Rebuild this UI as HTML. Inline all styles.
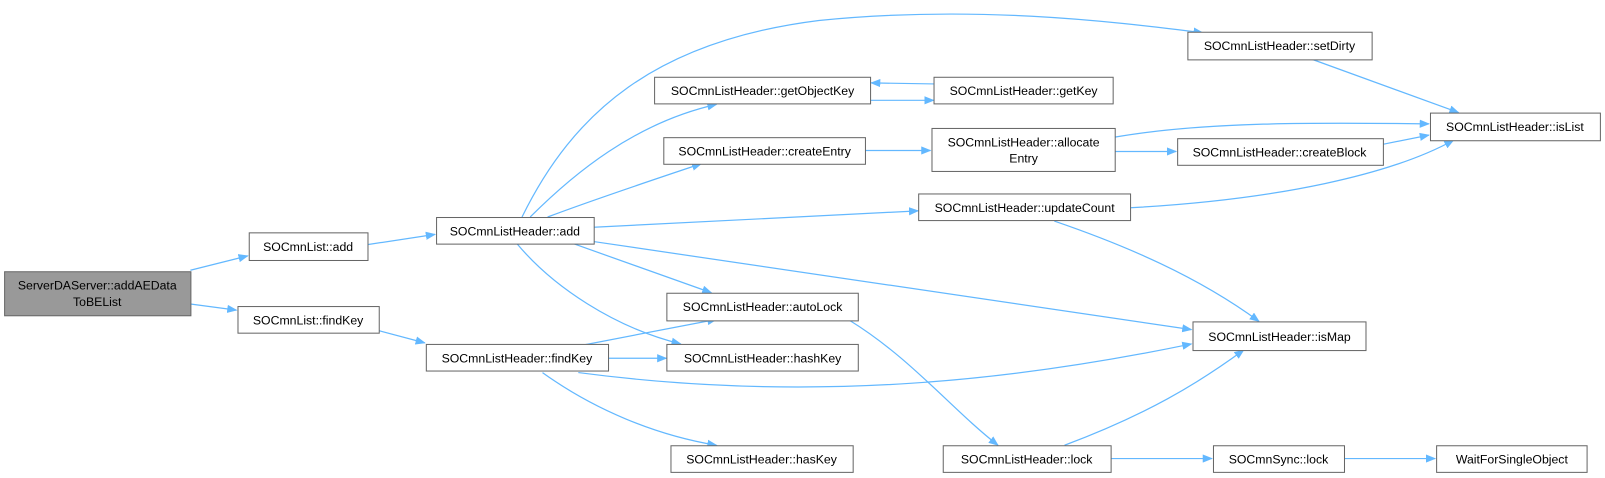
<!DOCTYPE html>
<html><head><meta charset="utf-8"><style>
body{margin:0;background:#fff;}
svg{display:block;}
text{font-family:"Liberation Sans",sans-serif;font-size:12px;fill:#000;}
</style></head><body>
<svg width="1605" height="478" viewBox="0 0 1568 467" preserveAspectRatio="none" xmlns="http://www.w3.org/2000/svg">
<defs><marker id="a" markerWidth="10" markerHeight="8" refX="9" refY="4" orient="auto" markerUnits="userSpaceOnUse"><path d="M0,0 L10,4 L0,8 z" fill="#63b8ff"/></marker></defs>
<g fill="none" stroke="#63b8ff" stroke-width="1.2" marker-end="url(#a)">
<path d="M186,264 L242,250"/>
<path d="M186,297 L231,303"/>
<path d="M359,239 L425,229"/>
<path d="M370,323 L415,335"/>
<path d="M510,212 C560,110 640,40 800,20 C950,5 1080,20 1175,32"/>
<path d="M518,212 C560,170 620,120 700,102"/>
<path d="M535,212 C580,195 640,175 685,160"/>
<path d="M580,222 L897,206"/>
<path d="M560,238 L695,286"/>
<path d="M505,238 C540,280 600,320 665,336"/>
<path d="M580,236 L1164,322"/>
<path d="M565,338 L700,312"/>
<path d="M594,350 L651,350"/>
<path d="M565,364 C800,395 1000,370 1164,336"/>
<path d="M530,364 C580,400 640,425 700,435"/>
<path d="M850,98 L912,98"/>
<path d="M913,82 L851,81"/>
<path d="M845,147 L909,147"/>
<path d="M1089,134 C1180,118 1300,120 1396,121"/>
<path d="M1089,148 L1149,148"/>
<path d="M1351,141 L1396,132"/>
<path d="M1104,203 C1250,195 1360,170 1420,137"/>
<path d="M1030,216 C1100,240 1170,270 1230,314"/>
<path d="M1282,58 L1425,110"/>
<path d="M830,313 C890,350 930,400 975,435"/>
<path d="M1040,435 C1120,405 1170,375 1215,342"/>
<path d="M1085,448 L1184,448"/>
<path d="M1313,448 L1402,448"/>
</g>
<g stroke="#666" stroke-width="1" fill="#fff">
<rect x="4.5" y="265.5" width="182" height="43" fill="#999"/>
<rect x="243.5" y="227.5" width="116" height="27"/>
<rect x="232.5" y="299.5" width="138" height="26"/>
<rect x="426.5" y="212.5" width="154" height="26"/>
<rect x="416.5" y="336.5" width="178" height="26"/>
<rect x="1160.5" y="31.5" width="180" height="27"/>
<rect x="639.5" y="75.5" width="211" height="26"/>
<rect x="912.5" y="75.5" width="175" height="26"/>
<rect x="648.5" y="134.5" width="197" height="26"/>
<rect x="910.5" y="125.5" width="179" height="42"/>
<rect x="1150.5" y="135.5" width="201" height="26"/>
<rect x="1397.5" y="110.5" width="166" height="27"/>
<rect x="897.5" y="189.5" width="207" height="26"/>
<rect x="651.5" y="286.5" width="187" height="27"/>
<rect x="651.5" y="336.5" width="187" height="26"/>
<rect x="1165.5" y="314.5" width="169" height="28"/>
<rect x="655.5" y="435.5" width="178" height="26"/>
<rect x="921.5" y="435.5" width="164" height="26"/>
<rect x="1185.5" y="435.5" width="128" height="26"/>
<rect x="1403.5" y="435.5" width="147" height="26"/>
</g>
<g text-anchor="middle">
<text x="95" y="283">ServerDAServer::addAEData</text>
<text x="95" y="299">ToBEList</text>
<text x="301" y="245">SOCmnList::add</text>
<text x="301" y="317">SOCmnList::findKey</text>
<text x="503" y="230">SOCmnListHeader::add</text>
<text x="505" y="354">SOCmnListHeader::findKey</text>
<text x="1250" y="49">SOCmnListHeader::setDirty</text>
<text x="745" y="93">SOCmnListHeader::getObjectKey</text>
<text x="1000" y="93">SOCmnListHeader::getKey</text>
<text x="747" y="152">SOCmnListHeader::createEntry</text>
<text x="1000" y="143">SOCmnListHeader::allocate</text>
<text x="1000" y="159">Entry</text>
<text x="1250" y="153">SOCmnListHeader::createBlock</text>
<text x="1480" y="128">SOCmnListHeader::isList</text>
<text x="1001" y="207">SOCmnListHeader::updateCount</text>
<text x="745" y="304">SOCmnListHeader::autoLock</text>
<text x="745" y="354">SOCmnListHeader::hashKey</text>
<text x="1250" y="333">SOCmnListHeader::isMap</text>
<text x="744" y="453">SOCmnListHeader::hasKey</text>
<text x="1003" y="453">SOCmnListHeader::lock</text>
<text x="1249" y="453">SOCmnSync::lock</text>
<text x="1477" y="453">WaitForSingleObject</text>
</g>
</svg>
</body></html>
